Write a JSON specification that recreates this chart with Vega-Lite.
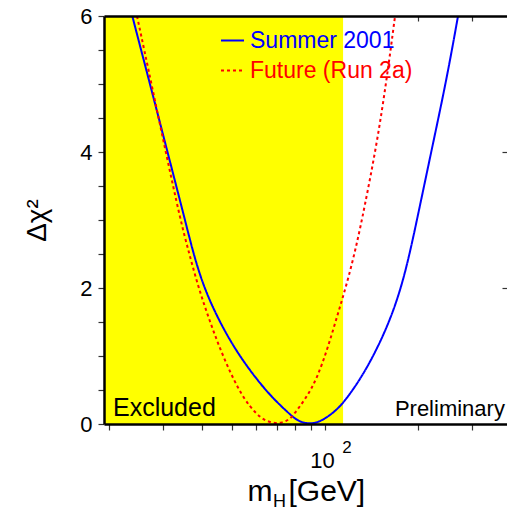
{
  "$schema": "https://vega.github.io/schema/vega-lite/v6.json",
  "width": 403,
  "height": 408,
  "autosize": "none",
  "padding": {"left": 104, "top": 16, "right": 0, "bottom": 85},
  "background": "white",
  "config": {
    "view": {"stroke": null},
    "font": "Liberation Sans",
    "axis": {"grid": false, "labelFont": "Liberation Sans", "titleFont": "Liberation Sans", "labelColor": "black", "titleColor": "black", "titleFontWeight": "normal"}
  },
  "datasets": {
    "excl": [{"m1": 19.27, "m2": 114.4, "c1": 0, "c2": 6}],
    "curves": [
      {"series": "Summer 2001", "m": 23.79, "chi": 6.0},
      {"series": "Summer 2001", "m": 27.14, "chi": 5.0},
      {"series": "Summer 2001", "m": 30.93, "chi": 4.0},
      {"series": "Summer 2001", "m": 35.24, "chi": 3.0},
      {"series": "Summer 2001", "m": 37.53, "chi": 2.5},
      {"series": "Summer 2001", "m": 40.6, "chi": 2.0},
      {"series": "Summer 2001", "m": 45.57, "chi": 1.5},
      {"series": "Summer 2001", "m": 52.7, "chi": 1.0},
      {"series": "Summer 2001", "m": 63.9, "chi": 0.5},
      {"series": "Summer 2001", "m": 72.6, "chi": 0.25},
      {"series": "Summer 2001", "m": 78.8, "chi": 0.1},
      {"series": "Summer 2001", "m": 83.0, "chi": 0.03},
      {"series": "Summer 2001", "m": 89.4, "chi": 0.0},
      {"series": "Summer 2001", "m": 96.3, "chi": 0.03},
      {"series": "Summer 2001", "m": 106.1, "chi": 0.16},
      {"series": "Summer 2001", "m": 114.4, "chi": 0.3},
      {"series": "Summer 2001", "m": 131.7, "chi": 0.69},
      {"series": "Summer 2001", "m": 150.7, "chi": 1.19},
      {"series": "Summer 2001", "m": 167.2, "chi": 1.68},
      {"series": "Summer 2001", "m": 180.2, "chi": 2.16},
      {"series": "Summer 2001", "m": 191.2, "chi": 2.66},
      {"series": "Summer 2001", "m": 201.5, "chi": 3.15},
      {"series": "Summer 2001", "m": 223.7, "chi": 4.13},
      {"series": "Summer 2001", "m": 248.2, "chi": 5.1},
      {"series": "Summer 2001", "m": 269.4, "chi": 6.0},
      {"series": "Future (Run 2a)", "m": 24.64, "chi": 6.0},
      {"series": "Future (Run 2a)", "m": 27.45, "chi": 5.0},
      {"series": "Future (Run 2a)", "m": 30.53, "chi": 4.0},
      {"series": "Future (Run 2a)", "m": 34.04, "chi": 3.0},
      {"series": "Future (Run 2a)", "m": 36.38, "chi": 2.5},
      {"series": "Future (Run 2a)", "m": 38.98, "chi": 2.0},
      {"series": "Future (Run 2a)", "m": 42.45, "chi": 1.5},
      {"series": "Future (Run 2a)", "m": 46.67, "chi": 1.0},
      {"series": "Future (Run 2a)", "m": 52.5, "chi": 0.5},
      {"series": "Future (Run 2a)", "m": 57.2, "chi": 0.25},
      {"series": "Future (Run 2a)", "m": 61.6, "chi": 0.1},
      {"series": "Future (Run 2a)", "m": 64.9, "chi": 0.04},
      {"series": "Future (Run 2a)", "m": 69.9, "chi": 0.0},
      {"series": "Future (Run 2a)", "m": 75.3, "chi": 0.045},
      {"series": "Future (Run 2a)", "m": 78.2, "chi": 0.1},
      {"series": "Future (Run 2a)", "m": 87.4, "chi": 0.4},
      {"series": "Future (Run 2a)", "m": 94.2, "chi": 0.67},
      {"series": "Future (Run 2a)", "m": 102.3, "chi": 1.13},
      {"series": "Future (Run 2a)", "m": 110.2, "chi": 1.63},
      {"series": "Future (Run 2a)", "m": 118.7, "chi": 2.12},
      {"series": "Future (Run 2a)", "m": 126.9, "chi": 2.66},
      {"series": "Future (Run 2a)", "m": 133.7, "chi": 3.15},
      {"series": "Future (Run 2a)", "m": 147.3, "chi": 4.13},
      {"series": "Future (Run 2a)", "m": 158.7, "chi": 5.1},
      {"series": "Future (Run 2a)", "m": 168.5, "chi": 6.0}
    ],
    "left": [{"m": 20.6, "chi": 0.118, "label": "Excluded"}],
    "right": [{"m": 382, "chi": 0.118, "label": "Preliminary"}]
  },
  "layer": [
    {
      "data": {"name": "excl"},
      "mark": {"type": "rect", "color": "#ffff00"},
      "encoding": {
        "x": {"field": "m1", "type": "quantitative", "scale": {"type": "log", "domain": [19.27, 388]},
          "axis": {"orient": "top", "values": [200, 300], "labels": false, "title": null, "tickSize": -5, "tickColor": "#333", "tickWidth": 1.2, "domainColor": "black", "domainWidth": 2.5, "zindex": 1}},
        "x2": {"field": "m2"},
        "y": {"field": "c1", "type": "quantitative", "scale": {"domain": [0, 6]},
          "axis": {"orient": "right", "values": [2, 4], "labels": false, "title": null, "tickSize": -5, "tickColor": "#333", "tickWidth": 1.2, "domain": false, "zindex": 1}},
        "y2": {"field": "c2"}
      }
    },
    {
      "data": {"name": "curves"},
      "mark": {"type": "line", "strokeWidth": 2, "interpolate": "basis", "clip": true},
      "encoding": {
        "x": {"field": "m", "type": "quantitative", "scale": {"type": "log", "domain": [19.27, 388]},
          "axis": {"orient": "bottom", "values": [20, 30, 40, 50, 60, 70, 80, 90, 100, 200, 300],
            "labelExpr": "datum.value == 100 ? '10' : ''", "labelFontSize": 22, "labelPadding": 20, "labelOffset": -3,
            "tickSize": 6, "tickColor": "#333", "tickWidth": 1.2, "domainColor": "black", "domainWidth": 2.5, "zindex": 1,
            "title": "m", "titleFontSize": 30, "titleAlign": "left", "titleBaseline": "alphabetic", "titleX": 143, "titleY": 76}},
        "y": {"field": "chi", "type": "quantitative", "scale": {"domain": [0, 6]},
          "axis": {"orient": "left", "values": [0, 0.5, 1, 1.5, 2, 2.5, 3, 3.5, 4, 4.5, 5, 5.5, 6],
            "labelExpr": "datum.value % 2 == 0 ? format(datum.value, 'd') : ''", "labelFontSize": 22, "labelPadding": 6,
            "tickSize": 6, "tickColor": "#333", "tickWidth": 1.2, "domainColor": "black", "domainWidth": 2.5, "zindex": 1,
            "title": "Δχ²", "titleFontSize": 28, "titleAngle": -90, "titleAlign": "center", "titleBaseline": "alphabetic", "titleX": -59, "titleY": 204}},
        "color": {"field": "series", "type": "nominal",
          "scale": {"domain": ["Summer 2001", "Future (Run 2a)"], "range": ["#0000ff", "#ff0000"]},
          "legend": {"orient": "none", "legendX": 116, "legendY": 12, "title": null, "symbolType": "stroke", "symbolSize": 529, "symbolStrokeWidth": 2,
            "labelFontSize": 23, "labelOffset": 5, "labelLimit": 400, "rowPadding": 5, "padding": 0, "labelFont": "Liberation Sans",
            "encode": {"labels": {"update": {"fill": {"signal": "datum.label === 'Summer 2001' ? '#0000ff' : '#ff0000'"}}}}}},
        "strokeDash": {"field": "series", "type": "nominal",
          "scale": {"domain": ["Summer 2001", "Future (Run 2a)"], "range": [[1, 0], [3, 3]]},
          "legend": {"orient": "none", "legendX": 116, "legendY": 12, "title": null, "symbolType": "stroke", "symbolSize": 529, "symbolStrokeWidth": 2,
            "labelFontSize": 23, "labelOffset": 5, "labelLimit": 400, "rowPadding": 5, "padding": 0, "labelFont": "Liberation Sans",
            "encode": {"labels": {"update": {"fill": {"signal": "datum.label === 'Summer 2001' ? '#0000ff' : '#ff0000'"}}}}}}
      }
    },
    {
      "data": {"name": "left"},
      "mark": {"type": "text", "align": "left", "baseline": "alphabetic", "fontSize": 25, "color": "black", "font": "Liberation Sans"},
      "encoding": {
        "x": {"field": "m", "type": "quantitative", "scale": {"type": "log", "domain": [19.27, 388]},
          "axis": {"orient": "bottom", "values": [100], "labelExpr": "'2'", "labelFontSize": 17, "labelPadding": 9, "labelOffset": 21.5,
            "tickSize": 6, "tickOpacity": 0, "domain": false,
            "title": "H", "titleFontSize": 18, "titleAlign": "center", "titleBaseline": "alphabetic", "titleX": 175, "titleY": 82}},
        "y": {"field": "chi", "type": "quantitative", "scale": {"domain": [0, 6]}, "axis": null},
        "text": {"field": "label"}
      }
    },
    {
      "data": {"name": "right"},
      "mark": {"type": "text", "align": "right", "baseline": "alphabetic", "fontSize": 22, "color": "black", "font": "Liberation Sans"},
      "encoding": {
        "x": {"field": "m", "type": "quantitative", "scale": {"type": "log", "domain": [19.27, 388]},
          "axis": {"orient": "bottom", "labels": false, "ticks": false, "domain": false,
            "title": "[GeV]", "titleFontSize": 30, "titleAlign": "left", "titleBaseline": "alphabetic", "titleX": 184, "titleY": 76}},
        "y": {"field": "chi", "type": "quantitative", "scale": {"domain": [0, 6]}, "axis": null},
        "text": {"field": "label"}
      }
    }
  ],
  "resolve": {
    "scale": {"x": "independent", "y": "independent", "color": "shared", "strokeDash": "shared"},
    "axis": {"x": "independent", "y": "independent"}
  }
}
